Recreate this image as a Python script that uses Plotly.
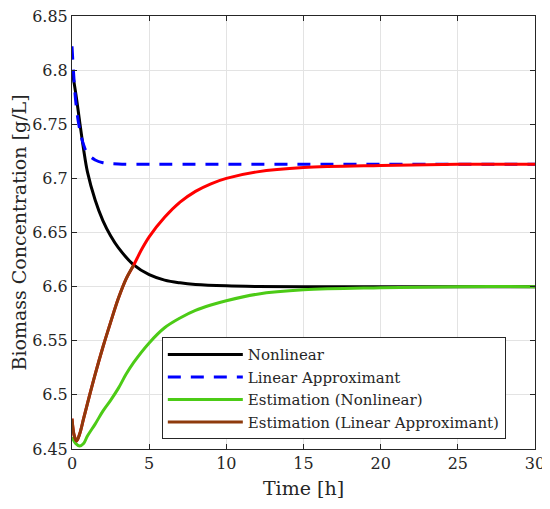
import plotly.graph_objects as go

# values (time in h, biomass in g/L)
t_nl = [0, 0.25, 0.5, 0.75, 1.0, 1.5, 2.0, 2.5, 3.0, 4.0, 5.0, 6.0, 7.0, 8.0, 10.0, 12.0, 15.0, 20.0, 30.0]
x_nl = [6.800, 6.778, 6.752, 6.727, 6.706, 6.680, 6.661, 6.647, 6.636, 6.620, 6.611, 6.606, 6.6035, 6.602,
        6.6007, 6.6002, 6.6, 6.6, 6.6]

t_lin = [0, 0.25, 0.5, 0.75, 1.0, 1.5, 2.0, 3.0, 5.0, 10.0, 30.0]
x_lin = [6.822, 6.770, 6.745, 6.731, 6.723, 6.717, 6.7145, 6.7132, 6.713, 6.713, 6.713]

t_est_nl = [0, 0.25, 0.5, 0.75, 1.0, 1.5, 2.0, 2.5, 3.0, 3.5, 4.0, 5.0, 6.0, 7.0, 8.0, 9.0, 10.0, 12.0,
            15.0, 20.0, 25.0, 30.0]
x_est_nl = [6.461, 6.455, 6.4528, 6.455, 6.462, 6.473, 6.485, 6.495, 6.506, 6.519, 6.530, 6.548, 6.562,
            6.571, 6.578, 6.583, 6.587, 6.593, 6.597, 6.599, 6.600, 6.600]

# estimation with the linear approximant: brown up to the crossing, red afterwards
t_est_lin = [0, 0.15, 0.3, 0.5, 0.75, 1.0, 1.5, 2.0, 2.5, 3.0, 3.5, 4.0, 4.5, 5.0, 6.0, 7.0, 8.0, 9.0,
             10.0, 12.0, 15.0, 20.0, 25.0, 30.0]
x_est_lin = [6.478, 6.462, 6.4575, 6.464, 6.478, 6.492, 6.519, 6.544, 6.567, 6.589, 6.607, 6.620, 6.634,
             6.646, 6.664, 6.678, 6.688, 6.695, 6.700, 6.706, 6.710, 6.712, 6.713, 6.713]
t_switch = 4.25

y_ticks = [6.45, 6.5, 6.55, 6.6, 6.65, 6.7, 6.75, 6.8, 6.85]
y_labels = ['6.45', '6.5', '6.55', '6.6', '6.65', '6.7', '6.75', '6.8', '6.85']
x_ticks = [0, 5, 10, 15, 20, 25, 30]

FONT = 'DejaVu Serif'
INK = '#262626'

fig = go.Figure()
fig.add_trace(go.Scatter(x=t_nl, y=x_nl, mode='lines', name='Nonlinear',
                         line=dict(color='black', width=3, shape='spline')))
fig.add_trace(go.Scatter(x=t_lin, y=x_lin, mode='lines', name='Linear Approximant',
                         line=dict(color='#0000ff', width=3, dash='13px,10px', shape='spline')))
fig.add_trace(go.Scatter(x=t_est_nl, y=x_est_nl, mode='lines', name='Estimation (Nonlinear)',
                         line=dict(color='#4ccb16', width=3, shape='spline')))
fig.add_trace(go.Scatter(x=t_est_lin, y=x_est_lin, mode='lines', showlegend=False,
                         line=dict(color='#ff0000', width=3, shape='spline')))
fig.add_trace(go.Scatter(x=[t for t in t_est_lin if t <= t_switch],
                         y=[v for t, v in zip(t_est_lin, x_est_lin) if t <= t_switch],
                         mode='lines', name='Estimation (Linear Approximant)',
                         line=dict(color='#8e3a0c', width=3, shape='spline')))

axis_common = dict(showline=True, linecolor=INK, linewidth=1, mirror='ticks',
                   ticks='inside', ticklen=5, tickcolor=INK, automargin=False,
                   ticklabeloverflow='allow',
                   showgrid=True, gridcolor='#e3e3e3', gridwidth=1, zeroline=False,
                   tickfont=dict(family=FONT, size=16, color=INK))

# the page body adds an 8px offset, so the figure is shifted inside the window
fig.update_layout(
    width=542, height=501, autosize=False,
    margin=dict(l=64, r=15, t=8, b=60),
    paper_bgcolor='white', plot_bgcolor='white',
    font=dict(family=FONT, color=INK, size=16),
    xaxis=dict(range=[0, 30], tickvals=x_ticks,
               title=dict(text='Time [h]', font=dict(family=FONT, size=19, color=INK), standoff=9),
               **axis_common),
    yaxis=dict(range=[6.45, 6.85], tickvals=y_ticks, ticktext=y_labels,
               title=dict(text='Biomass Concentration [g/L]', font=dict(family=FONT, size=19, color=INK),
                          standoff=4),
               **axis_common),
    legend=dict(x=0.194, y=0.258, xanchor='left', yanchor='top',
                bgcolor='white', bordercolor=INK, borderwidth=1,
                font=dict(family=FONT, size=15, color=INK),
                itemwidth=75, tracegroupgap=0, traceorder='normal'),
    showlegend=True,
)

fig.write_html('out.html')
